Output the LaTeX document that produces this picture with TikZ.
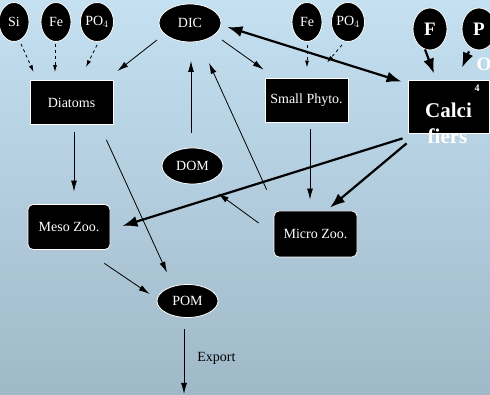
\documentclass[tikz,border=0pt]{standalone}
\usepackage{fontspec}
\setmainfont{Liberation Serif}
\usetikzlibrary{arrows.meta,shapes.geometric}

\begin{document}
\begin{tikzpicture}[x=1pt,y=1pt,line join=bevel,
  nutrient/.style={ellipse,fill=black,draw=white,line width=0.8pt,text=white,inner sep=0pt,
    minimum width=30pt,minimum height=39pt,font=\fontsize{14}{16}\selectfont},
  pool/.style={nutrient,minimum width=62pt,minimum height=38pt},
  phyto/.style={rectangle,fill=black,draw=white,line width=0.8pt,text=white,inner sep=0pt,
    minimum width=83pt,minimum height=44pt,font=\fontsize{14}{16}\selectfont},
  zoo/.style={phyto,rounded corners=5pt,minimum height=46pt},
  big/.style={text=white,font=\bfseries\fontsize{19}{22}\selectfont},
  flux/.style={draw=black,line width=0.8pt,-{Latex[length=11pt,width=6pt]}},
  supply/.style={flux,dashed,-{Latex[length=7pt,width=4pt]}},
  calcflux/.style={draw=black,line width=2.2pt,-{Latex[length=15pt,width=11pt]}}]

% Background
\useasboundingbox (0,0) rectangle (490,395);
\clip (0,0) rectangle (490,395);
\fill[top color={rgb,255:red,196;green,224;blue,241},bottom color={rgb,255:red,160;green,185;blue,201}]
  (0,0) rectangle (490,395);

% Node: nutrients (left)
\node[nutrient] (Si) at (14,373) {Si};
\node[nutrient] (FeA) at (56,373) {Fe};
\node[nutrient] (POA) at (97,373) {PO$_4$};

% Node: DIC
\node[pool] (DIC) at (190,372) {DIC};

% Node: nutrients (right)
\node[nutrient] (FeB) at (307,373) {Fe};
\node[nutrient] (POB) at (348,373) {PO$_4$};

% Node: Calcifiers
\node[phyto,minimum width=81pt,minimum height=53pt,text height=23pt,text depth=0pt,big,
  font=\bfseries\fontsize{21}{24}\selectfont,
  label={[big,font=\bfseries\fontsize{21}{24}\selectfont,inner sep=0pt,label distance=-5pt,xshift=-1pt]-90:fiers}]
  (Calc) at (448.5,288.5) {Calci};

% Node: F, P
\node[nutrient,minimum width=34pt,minimum height=42pt,big] (F) at (430,366) {F};
\node[nutrient,minimum width=34pt,minimum height=42pt,big,
  label={[big,inner sep=0pt,label distance=7pt,xshift=5pt]-90:O},
  label={[text=white,font=\bfseries\fontsize{10}{12}\selectfont,inner sep=0pt,label distance=34pt,xshift=-2pt]-90:4}]
  (P) at (479,366) {P};

% Node: plankton
\node[phyto] (Diatoms) at (71.5,292.5) {Diatoms};
\node[phyto] (SmallPhyto) at (306.5,295) {Small Phyto.};
\node[pool,minimum width=61pt,minimum height=36pt] (DOM) at (192.5,229) {DOM};
\node[zoo,minimum width=82pt,minimum height=45pt] (MesoZoo) at (69,168) {Meso Zoo.};
\node[zoo] (MicroZoo) at (315.5,161) {Micro Zoo.};
\node[pool,minimum width=61pt,minimum height=33pt] (POM) at (187.5,94) {POM};
\coordinate (sink) at (184,1);

% Edge: nutrients -> Diatoms
\draw[supply] ([xshift=7pt,yshift=-2pt]Si.south) -- ([xshift=4pt,yshift=8pt]Diatoms.north west);
\draw[supply] ([xshift=-1pt,yshift=-2pt]FeA.south) -- ([xshift=-16.5pt,yshift=8pt]Diatoms.north);
\draw[supply] ([yshift=-3pt]POA.south) -- ([xshift=14.5pt,yshift=13pt]Diatoms.north);

% Edge: nutrients -> Small Phyto.
\draw[supply] ([yshift=-3pt]FeB.south) -- ([xshift=0.5pt,yshift=10pt]SmallPhyto.north);
\draw[supply] ([xshift=-6pt,yshift=-3pt]POB.south) -- ([xshift=20.5pt,yshift=15pt]SmallPhyto.north);

% Edge: DIC -> phytoplankton
\draw[flux] ([xshift=-33pt,yshift=-17pt]DIC.center) -- ([xshift=4pt,yshift=9pt]Diatoms.north east);
\draw[flux] ([xshift=32pt,yshift=-17pt]DIC.center) -- ([xshift=-1pt,yshift=8pt]SmallPhyto.north west);

% Edge: DIC <-> Calcifiers
\draw[calcflux,{Latex[length=15pt,width=11pt]}-{Latex[length=15pt,width=11pt]}]
  ([xshift=6pt,yshift=-4pt]DIC.east) -- ([xshift=-6pt,yshift=-2pt]Calc.north west);

% Edge: F, P -> Calcifiers
\draw[calcflux] ([xshift=-5pt,yshift=1pt]F.south) -- ([xshift=-14.5pt,yshift=6pt]Calc.north);
\draw[calcflux] ([xshift=-10pt,yshift=-1pt]P.south) -- ([xshift=13.5pt,yshift=12pt]Calc.north);

% Edge: -> DIC
\draw[flux] ([xshift=-1.5pt,yshift=15pt]DOM.north) -- ([xshift=1pt,yshift=-18.5pt]DIC.south);
\draw[flux] ([xshift=-7pt,yshift=21pt]MicroZoo.north west) -- ([xshift=19pt,yshift=-20.5pt]DIC.south);

% Edge: grazing
\draw[flux] ([xshift=3.5pt,yshift=-7pt]SmallPhyto.south) -- ([xshift=-5.5pt,yshift=11pt]MicroZoo.north);
\draw[flux] ([xshift=2.5pt,yshift=-7pt]Diatoms.south) -- ([xshift=5pt,yshift=12.5pt]MesoZoo.north);
\draw[calcflux] ([xshift=-1pt,yshift=-10pt]Calc.south west) -- ([xshift=14.5pt,yshift=3pt]MicroZoo.north);
\draw[calcflux] ([xshift=-5pt,yshift=-5pt]Calc.south west) -- ([xshift=12pt,yshift=1pt]MesoZoo.east);

% Edge: Micro Zoo. -> DOM
\draw[flux] ([xshift=-15pt,yshift=11pt]MicroZoo.west) -- ([xshift=25.5pt,yshift=-9pt]DOM.south);

% Edge: -> POM
\draw[flux] ([xshift=-7pt,yshift=-15pt]Diatoms.south east) -- ([xshift=-20.5pt,yshift=11.5pt]POM.north);
\draw[flux] ([xshift=-6pt,yshift=-13.5pt]MesoZoo.south east) -- ([xshift=-7pt,yshift=7pt]POM.west);

% Edge: POM -> export
\draw[flux] ([xshift=-3.5pt,yshift=-11.5pt]POM.south) -- (sink)
  node[pos=0.45,anchor=west,inner sep=0pt,xshift=13pt,font=\fontsize{14}{16}\selectfont] (exportlbl) {Export};
%
\end{tikzpicture}
\end{document}
